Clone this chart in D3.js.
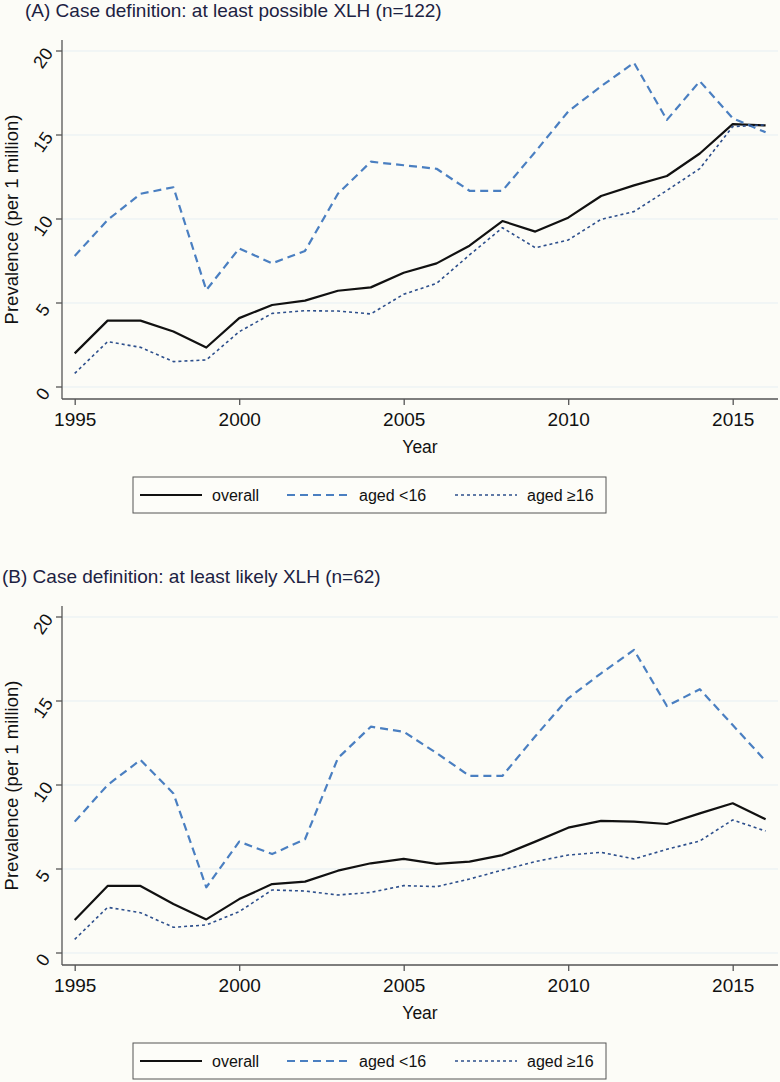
<!DOCTYPE html>
<html>
<head>
<meta charset="utf-8">
<script src="https://cdn.jsdelivr.net/npm/d3@7"></script>
<style>
  body { margin: 0; background: #fcfcf7; }
  svg { display: block; }
  text { font-family: "Liberation Sans", Arial, sans-serif; }
</style>
</head>
<body>
<svg id="chart" width="780" height="1082"></svg>
<script>
// data
var years = [1995, 1996, 1997, 1998, 1999, 2000, 2001, 2002, 2003, 2004, 2005,
             2006, 2007, 2008, 2009, 2010, 2011, 2012, 2013, 2014, 2015, 2016];
var yearTicks = [1995, 2000, 2005, 2010, 2015];
var prevTicks = [0, 5, 10, 15, 20];

var overallA = [2.0, 3.95, 3.95, 3.3, 2.35, 4.1, 4.88, 5.14, 5.73, 5.93, 6.8,
                7.36, 8.41, 9.88, 9.25, 10.08, 11.37, 12.0, 12.56, 13.9, 15.65, 15.57];
var youngA   = [7.8, 9.94, 11.5, 11.89, 5.77, 8.25, 7.36, 8.1, 11.5, 13.41, 13.2,
                12.99, 11.68, 11.68, 14.0, 16.4, 17.9, 19.3, 15.9, 18.2, 16.0, 15.16];
var adultA   = [0.81, 2.7, 2.36, 1.51, 1.61, 3.29, 4.38, 4.54, 4.52, 4.35, 5.52,
                6.17, 7.86, 9.48, 8.29, 8.75, 9.98, 10.44, 11.7, 13.0, 15.5, 15.6];

var overallB = [1.96, 3.99, 3.99, 2.92, 2.0, 3.21, 4.1, 4.25, 4.9, 5.34, 5.6,
                5.3, 5.44, 5.83, 6.63, 7.46, 7.86, 7.82, 7.68, 8.31, 8.91, 7.96];
var youngB   = [7.82, 10.0, 11.49, 9.5, 3.91, 6.63, 5.89, 6.77, 11.6, 13.47, 13.17,
                11.9, 10.54, 10.54, 12.9, 15.16, 16.65, 18.04, 14.7, 15.7, 13.57, 11.43];
var adultB   = [0.81, 2.72, 2.4, 1.53, 1.67, 2.46, 3.75, 3.69, 3.45, 3.61, 4.01,
                3.95, 4.4, 4.94, 5.44, 5.83, 5.99, 5.6, 6.17, 6.67, 7.92, 7.26];

var seriesNames = ['overall', 'aged <16', 'aged \u226516'];
var titles = ['(A) Case definition: at least possible XLH (n=122)',
              '(B) Case definition: at least likely XLH (n=62)'];

var styles = [
  { color: '#111111', width: 2.2, dash: null },
  { color: '#4a7fc1', width: 2.2, dash: '8,5' },
  { color: '#2d4f8c', width: 1.6, dash: '3,3' }
];

var svg = d3.select('#chart');

var x = d3.scaleLinear().domain([1995, 2016]).range([74.7, 765.6]);
var y = d3.scaleLinear().domain([0, 20]).range([387, 51]);

var plotLeft = 62, plotRight = 778, plotTop = 40, plotBottom = 399;

var line = d3.line()
  .x(function(d, i) { return x(years[i]); })
  .y(function(d) { return y(d); });

function panel(offset, title, titleX, data) {
  var g = svg.append('g').attr('transform', 'translate(0,' + offset + ')');

  g.append('text')
    .attr('x', titleX).attr('y', 17)
    .attr('font-size', 19)
    .attr('fill', '#1c2242')
    .text(title);

  // gridlines
  g.selectAll('.grid').data(prevTicks).enter().append('line')
    .attr('x1', plotLeft).attr('x2', plotRight)
    .attr('y1', function(d) { return y(d); })
    .attr('y2', function(d) { return y(d); })
    .attr('stroke', '#e6eff3').attr('stroke-width', 1);

  // y axis
  g.append('line')
    .attr('x1', plotLeft).attr('x2', plotLeft)
    .attr('y1', plotTop).attr('y2', plotBottom)
    .attr('stroke', '#555').attr('stroke-width', 1.3);
  g.selectAll('.yt').data(prevTicks).enter().append('line')
    .attr('x1', plotLeft - 6).attr('x2', plotLeft)
    .attr('y1', function(d) { return y(d); })
    .attr('y2', function(d) { return y(d); })
    .attr('stroke', '#555').attr('stroke-width', 1.3);
  g.selectAll('.yl').data(prevTicks).enter().append('text')
    .attr('transform', function(d) {
      return 'translate(' + (plotLeft - 19) + ',' + (y(d) + 7) + ') rotate(-55)';
    })
    .attr('text-anchor', 'middle')
    .attr('dominant-baseline', 'central')
    .attr('font-size', 18)
    .attr('fill', '#111')
    .text(function(d) { return d; });

  g.append('text')
    .attr('transform', 'translate(18,' + ((plotTop + plotBottom) / 2) + ') rotate(-90)')
    .attr('text-anchor', 'middle')
    .attr('font-size', 18.5)
    .attr('fill', '#111')
    .text('Prevalence (per 1 million)');

  // x axis
  g.append('line')
    .attr('x1', plotLeft).attr('x2', plotRight)
    .attr('y1', plotBottom).attr('y2', plotBottom)
    .attr('stroke', '#555').attr('stroke-width', 1.3);
  var xa = d3.axisBottom(x).tickValues(yearTicks).tickSize(6).tickPadding(8)
    .tickFormat(d3.format('d'));
  var xg = g.append('g').attr('transform', 'translate(0,' + plotBottom + ')').call(xa);
  xg.select('.domain').remove();
  xg.selectAll('.tick line').attr('stroke', '#555').attr('stroke-width', 1.3);
  xg.selectAll('.tick text').attr('font-size', 19).attr('fill', '#111')
    .attr('font-family', '"Liberation Sans", Arial, sans-serif');

  g.append('text')
    .attr('x', (plotLeft + plotRight) / 2).attr('y', plotBottom + 54)
    .attr('text-anchor', 'middle')
    .attr('font-size', 17.5)
    .attr('fill', '#111')
    .text('Year');

  // series
  data.forEach(function(s, i) {
    g.append('path')
      .datum(s)
      .attr('d', line)
      .attr('fill', 'none')
      .attr('stroke', styles[i].color)
      .attr('stroke-width', styles[i].width)
      .attr('stroke-dasharray', styles[i].dash)
      .attr('stroke-linejoin', 'round');
  });

  // legend
  var lg = g.append('g').attr('transform', 'translate(133,477)');
  lg.append('rect')
    .attr('width', 473).attr('height', 36)
    .attr('fill', '#fdfdf9').attr('stroke', '#555').attr('stroke-width', 1);
  var sampleX = [7, 154, 322];
  seriesNames.forEach(function(name, i) {
    lg.append('line')
      .attr('x1', sampleX[i]).attr('x2', sampleX[i] + 62)
      .attr('y1', 18).attr('y2', 18)
      .attr('stroke', styles[i].color)
      .attr('stroke-width', styles[i].width)
      .attr('stroke-dasharray', styles[i].dash);
    lg.append('text')
      .attr('x', sampleX[i] + 72).attr('y', 24)
      .attr('font-size', 16)
      .attr('fill', '#111')
      .text(name);
  });
}

panel(0, titles[0], 25, [overallA, youngA, adultA]);
panel(566, titles[1], 2, [overallB, youngB, adultB]);
</script>
</body>
</html>
